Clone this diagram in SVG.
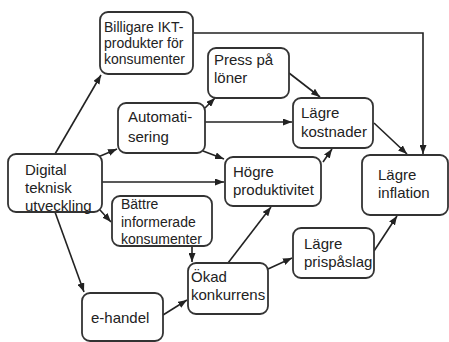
<svg xmlns="http://www.w3.org/2000/svg" width="449" height="342" viewBox="0 0 449 342">
<style>
.box{fill:#fff;stroke:#333;stroke-width:1.8}
.t{font-family:"Liberation Sans",Arial,sans-serif;font-size:15px;fill:#222}
.s{font-size:14px}
.c{fill:none;stroke:#222;stroke-width:1.6;marker-end:url(#a)}
</style>
<defs>
<marker id="a" markerUnits="userSpaceOnUse" markerWidth="9" markerHeight="7" refX="9" refY="3.5" orient="auto">
<path d="M0,0 L9,3.5 L0,7 z" fill="#222"/>
</marker>
</defs>
<rect width="449" height="342" fill="#fff"/>
<g id="connectors">
<path class="c" d="M55,154 L101,75"/>
<path class="c" d="M98,157 L117,149"/>
<path class="c" d="M193,33 H423 V154"/>
<path class="c" d="M205,108 L215,98"/>
<path class="c" d="M289,73 L320,97"/>
<path class="c" d="M205,122 H292"/>
<path class="c" d="M203,151 L224,159"/>
<path class="c" d="M102,182 H224"/>
<path class="c" d="M100,210 L111,222"/>
<path class="c" d="M55,212 L84,292"/>
<path class="c" d="M192,246 V262"/>
<path class="c" d="M163,315 L187,300"/>
<path class="c" d="M228,263 L271,207"/>
<path class="c" d="M268,269 L292,258"/>
<path class="c" d="M374,251 L397,216"/>
<path class="c" d="M323,162 L332,149"/>
<path class="c" d="M374,123 L407,154"/>
</g>
<g id="billigare">
<rect class="box" x="100" y="12" width="93" height="62" rx="8"/>
<text class="t s" x="104"><tspan x="104" y="32">Billigare IKT-</tspan><tspan x="104" y="48">produkter för</tspan><tspan x="104" y="64">konsumenter</tspan></text>
</g>
<g id="press">
<rect class="box" x="208" y="48" width="81" height="50" rx="8"/>
<text class="t" x="214"><tspan x="214" y="65">Press på</tspan><tspan x="214" y="83">löner</tspan></text>
</g>
<g id="automatisering">
<rect class="box" x="118" y="103" width="87" height="50" rx="8"/>
<text class="t" x="128"><tspan x="128" y="122">Automati-</tspan><tspan x="128" y="142">sering</tspan></text>
</g>
<g id="kostnader">
<rect class="box" x="293" y="98" width="80" height="50" rx="8"/>
<text class="t" x="301"><tspan x="301" y="118">Lägre</tspan><tspan x="301" y="137">kostnader</tspan></text>
</g>
<g id="digital">
<rect class="box" x="8" y="154" width="94" height="58" rx="8"/>
<text class="t" x="25"><tspan x="25" y="175">Digital</tspan><tspan x="25" y="193">teknisk</tspan><tspan x="25" y="211">utveckling</tspan></text>
</g>
<g id="produktivitet">
<rect class="box" x="225" y="157" width="96" height="49" rx="8"/>
<text class="t" x="233"><tspan x="233" y="177">Högre</tspan><tspan x="233" y="195">produktivitet</tspan></text>
</g>
<g id="inflation">
<rect class="box" x="362" y="155" width="86" height="60" rx="8"/>
<text class="t" x="378"><tspan x="378" y="180">Lägre</tspan><tspan x="378" y="198">inflation</tspan></text>
</g>
<g id="battre">
<rect class="box" x="112" y="196" width="100" height="50" rx="8"/>
<text class="t s" x="121"><tspan x="121" y="209">Bättre</tspan><tspan x="121" y="227">informerade</tspan><tspan x="121" y="244">konsumenter</tspan></text>
</g>
<g id="okad">
<rect class="box" x="188" y="263" width="80" height="51" rx="8"/>
<text class="t" x="191"><tspan x="191" y="282">Ökad</tspan><tspan x="191" y="300">konkurrens</tspan></text>
</g>
<g id="ehandel">
<rect class="box" x="82" y="293" width="81" height="48" rx="8"/>
<text class="t" x="91" y="323">e-handel</text>
</g>
<g id="prispaslag">
<rect class="box" x="293" y="228" width="81" height="50" rx="8"/>
<text class="t" x="304"><tspan x="304" y="249">Lägre</tspan><tspan x="304" y="267">prispåslag</tspan></text>
</g>
</svg>
